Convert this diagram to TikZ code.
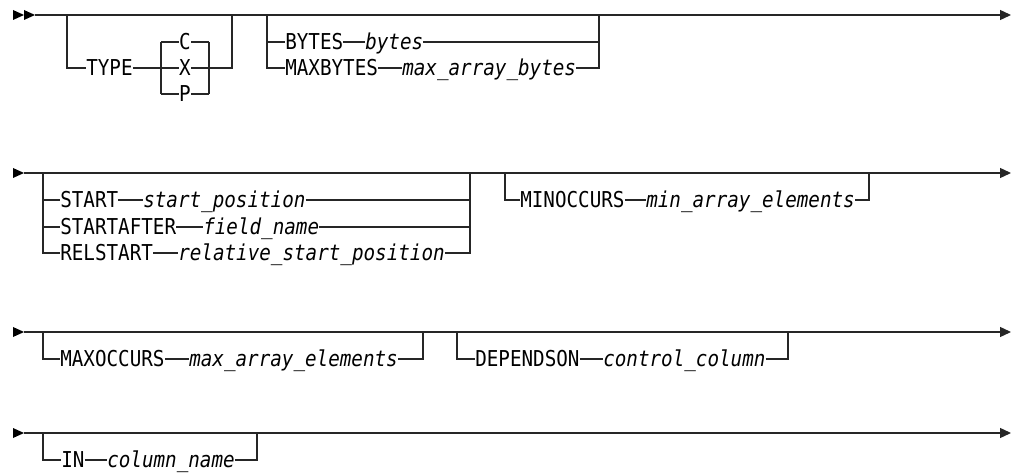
\documentclass[tikz,border=0pt]{standalone}
\usepackage{fontspec}
\usetikzlibrary{arrows.meta}
\newfontfamily\rrmono[FakeStretch=0.88]{DejaVu Sans Mono}
\newcommand\rrkwfont{\rrmono\fontsize{16.4}{19}\selectfont}
\newcommand\rrvarfont{\rrmono\itshape\fontsize{16.4}{19}\selectfont}
\tikzset{
  trk/.style={line width=1pt, draw=black!85},
  endarrow/.style={trk, -{Triangle[length=8.25pt,width=7.5pt]}},
  starttip/.style={fill=black},
  kw/.style={font=\rrkwfont, inner sep=0pt, text height=11.6pt, text depth=0pt, anchor=west},
  var/.style={kw, font=\rrvarfont},
  ch/.style={kw, anchor=center}
}
\begin{document}
\begin{tikzpicture}[x=0.75pt,y=-0.75pt]
\useasboundingbox (0,0) rectangle (1022,474);

% ================= Row 1 =================
\fill[starttip] (13,10) -- (24,15) -- (13,20) -- cycle;
\fill[starttip] (24,10) -- (35,15) -- (24,20) -- cycle;
\coordinate (r1s) at (35,15);
\coordinate (r1e) at (1011,15);
\draw[endarrow] (r1s) -- (r1e);

% TYPE optional box
\coordinate (a1) at (67,15);  \coordinate (a1b) at (67,68);
\coordinate (a2) at (232,15); \coordinate (a2b) at (232,68);
\node[kw] (type) at (86,68) {TYPE};
% choice C X P
\coordinate (c1t) at (161,42); \coordinate (c1b) at (161,94);
\coordinate (c2t) at (209,42); \coordinate (c2b) at (209,94);
\node[ch] (cC) at (185,42) {C};
\node[ch] (cX) at (185,68) {X};
\node[ch] (cP) at (185,94) {P};
\draw[trk] (a1) -- (a1b) -- (type.west);
\draw[trk] (type.east) -- (cX.west);
\draw[trk] (cX.east) -- (a2b) -- (a2);
\draw[trk] (c1t) -- (c1b);
\draw[trk] (c2t) -- (c2b);
\draw[trk] (c1t) -- (cC.west);
\draw[trk] (cC.east) -- (c2t);
\draw[trk] (c1b) -- (cP.west);
\draw[trk] (cP.east) -- (c2b);

% BYTES / MAXBYTES box
\coordinate (b1) at (267,15);  \coordinate (b1m) at (267,42); \coordinate (b1b) at (267,68);
\coordinate (b2) at (599,15);  \coordinate (b2m) at (599,42); \coordinate (b2b) at (599,68);
\node[kw]  (bytesk) at (285,42) {BYTES};
\node[var] (bytesv) at (365,42) {bytes};
\node[kw]  (maxbk)  at (285,68) {MAXBYTES};
\node[var] (maxbv)  at (402,68) {max\_array\_bytes};
\draw[trk] (b1) -- (b1b) -- (maxbk.west);
\draw[trk] (maxbk.east) -- (maxbv.west);
\draw[trk] (maxbv.east) -- (b2b) -- (b2);
\draw[trk] (b1m) -- (bytesk.west);
\draw[trk] (bytesk.east) -- (bytesv.west);
\draw[trk] (bytesv.east) -- (b2m);

% ================= Row 2 =================
\fill[starttip] (13,168) -- (24,173) -- (13,178) -- cycle;
\coordinate (r2s) at (24,173);
\coordinate (r2e) at (1011,173);
\draw[endarrow] (r2s) -- (r2e);

\coordinate (s1) at (43,173);  \coordinate (s1a) at (43,200); \coordinate (s1b) at (43,227); \coordinate (s1c) at (43,253);
\coordinate (s2) at (470,173); \coordinate (s2a) at (470,200); \coordinate (s2b) at (470,227); \coordinate (s2c) at (470,253);
\node[kw]  (startk) at (60,200) {START};
\node[var] (startv) at (143,200) {start\_position};
\node[kw]  (safk)   at (60,227) {STARTAFTER};
\node[var] (safv)   at (203,227) {field\_name};
\node[kw]  (relk)   at (60,253) {RELSTART};
\node[var] (relv)   at (178,253) {relative\_start\_position};
\draw[trk] (s1) -- (s1c) -- (relk.west);
\draw[trk] (relk.east) -- (relv.west);
\draw[trk] (relv.east) -- (s2c) -- (s2);
\draw[trk] (s1a) -- (startk.west);
\draw[trk] (startk.east) -- (startv.west);
\draw[trk] (startv.east) -- (s2a);
\draw[trk] (s1b) -- (safk.west);
\draw[trk] (safk.east) -- (safv.west);
\draw[trk] (safv.east) -- (s2b);

\coordinate (m1) at (505,173); \coordinate (m1b) at (505,200);
\coordinate (m2) at (869,173); \coordinate (m2b) at (869,200);
\node[kw]  (mink) at (520,200) {MINOCCURS};
\node[var] (minv) at (646,200) {min\_array\_elements};
\draw[trk] (m1) -- (m1b) -- (mink.west);
\draw[trk] (mink.east) -- (minv.west);
\draw[trk] (minv.east) -- (m2b) -- (m2);

% ================= Row 3 =================
\fill[starttip] (13,327) -- (24,332) -- (13,337) -- cycle;
\coordinate (r3s) at (24,332);
\coordinate (r3e) at (1011,332);
\draw[endarrow] (r3s) -- (r3e);

\coordinate (x1) at (43,332);  \coordinate (x1b) at (43,359);
\coordinate (x2) at (423,332); \coordinate (x2b) at (423,359);
\node[kw]  (maxok) at (60,359) {MAXOCCURS};
\node[var] (maxov) at (189,359) {max\_array\_elements};
\draw[trk] (x1) -- (x1b) -- (maxok.west);
\draw[trk] (maxok.east) -- (maxov.west);
\draw[trk] (maxov.east) -- (x2b) -- (x2);

\coordinate (d1) at (457,332); \coordinate (d1b) at (457,359);
\coordinate (d2) at (788,332); \coordinate (d2b) at (788,359);
\node[kw]  (depk) at (475,359) {DEPENDSON};
\node[var] (depv) at (603,359) {control\_column};
\draw[trk] (d1) -- (d1b) -- (depk.west);
\draw[trk] (depk.east) -- (depv.west);
\draw[trk] (depv.east) -- (d2b) -- (d2);

% ================= Row 4 =================
\fill[starttip] (13,428) -- (24,433) -- (13,438) -- cycle;
\coordinate (r4s) at (24,433);
\coordinate (r4e) at (1011,433);
\draw[endarrow] (r4s) -- (r4e);

\coordinate (i1) at (43,433);  \coordinate (i1b) at (43,460);
\coordinate (i2) at (257,433); \coordinate (i2b) at (257,460);
\node[kw]  (ink) at (61,460) {IN};
\node[var] (inv) at (107,460) {column\_name};
\draw[trk] (i1) -- (i1b) -- (ink.west);
\draw[trk] (ink.east) -- (inv.west);
\draw[trk] (inv.east) -- (i2b) -- (i2);
\end{tikzpicture}
\end{document}
